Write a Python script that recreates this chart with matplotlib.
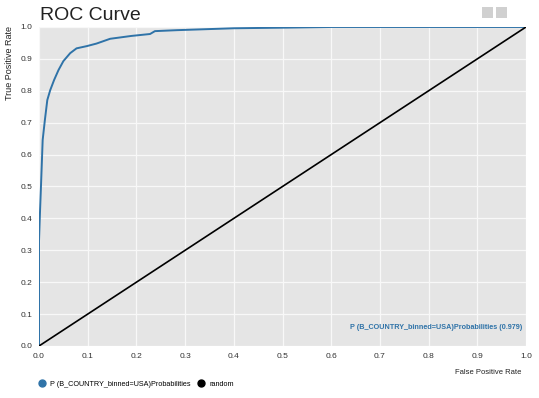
import matplotlib
matplotlib.use("Agg")
import matplotlib.pyplot as plt
from matplotlib.patches import Rectangle
from matplotlib.lines import Line2D

plt.rcParams['font.family'] = ['Liberation Sans', 'DejaVu Sans']

# ROC points
fpr = [0.0, 0.0, 0.002, 0.004, 0.0075, 0.012, 0.017, 0.023, 0.031, 0.040,
       0.050, 0.064, 0.077, 0.098, 0.118, 0.146, 0.190, 0.228, 0.238,
       0.283, 0.40, 0.51, 0.60, 1.0]
tpr = [0.0, 0.33, 0.42, 0.50, 0.646, 0.708, 0.771, 0.802, 0.834, 0.865,
       0.893, 0.918, 0.933, 0.940, 0.948, 0.963, 0.972, 0.978, 0.987,
       0.990, 0.996, 0.998, 1.0, 1.0]
rand_x = [0.0, 1.0]
rand_y = [0.0, 1.0]
auc = 0.979
series_name = "P (B_COUNTRY_binned=USA)Probabilities"

blue = "#2f73a8"
ticks = [0.0, 0.1, 0.2, 0.3, 0.4, 0.5, 0.6, 0.7, 0.8, 0.9, 1.0]

fig = plt.figure(figsize=(5.39, 3.98), dpi=100)
ax = fig.add_axes([0.0724, 0.1307, 0.9035, 0.8015])
ax.set_facecolor("#e5e5e5")
ax.plot(fpr, tpr, color=blue, lw=1.4, solid_joinstyle="round")
ax.plot(rand_x, rand_y, color="black", lw=1.2)
ax.set_xlim(0, 1)
ax.set_ylim(0, 1)
ax.set_xticks(ticks)
ax.set_yticks(ticks)
ax.set_xticklabels([f"{t:.1f}" for t in ticks])
ax.set_yticklabels([f"{t:.1f}" for t in ticks])
ax.tick_params(length=0, labelsize=6, colors="#333333", pad=5)
ax.grid(True, color="#f8f8f8", lw=0.9)
ax.set_axisbelow(True)
for s in ax.spines.values():
    s.set_visible(False)

ax.text(0.992, 0.058, f"{series_name} ({auc})", transform=ax.transAxes,
        ha="right", va="center", fontsize=5.2, color=blue, fontweight="bold")

fig.text(0.074, 0.962, "ROC Curve", fontsize=14, ha="left", va="center", color="#222222")
fig.text(0.018, 0.842, "True Positive Rate", rotation=90, fontsize=6.5,
         ha="center", va="center", color="#222222")
fig.text(0.967, 0.065, "False Positive Rate", fontsize=5.5,
         ha="right", va="center", color="#222222")

# legend below the plot
handles = [Line2D([], [], ls="none", marker="o", ms=5, color=blue),
           Line2D([], [], ls="none", marker="o", ms=5, color="black")]
fig.legend(handles, [series_name, "random"], loc="center left",
           bbox_to_anchor=(0.058, 0.035), ncol=2, frameon=False,
           fontsize=5.2, handletextpad=0.5, columnspacing=0.9, handlelength=1.2)

# toolbar icons top right
for x0 in (0.895, 0.921):
    fig.patches.append(Rectangle((x0, 0.955), 0.02, 0.027, transform=fig.transFigure,
                                 facecolor="#d0d0d0", edgecolor="none"))

fig.savefig("out.png", dpi=100)
